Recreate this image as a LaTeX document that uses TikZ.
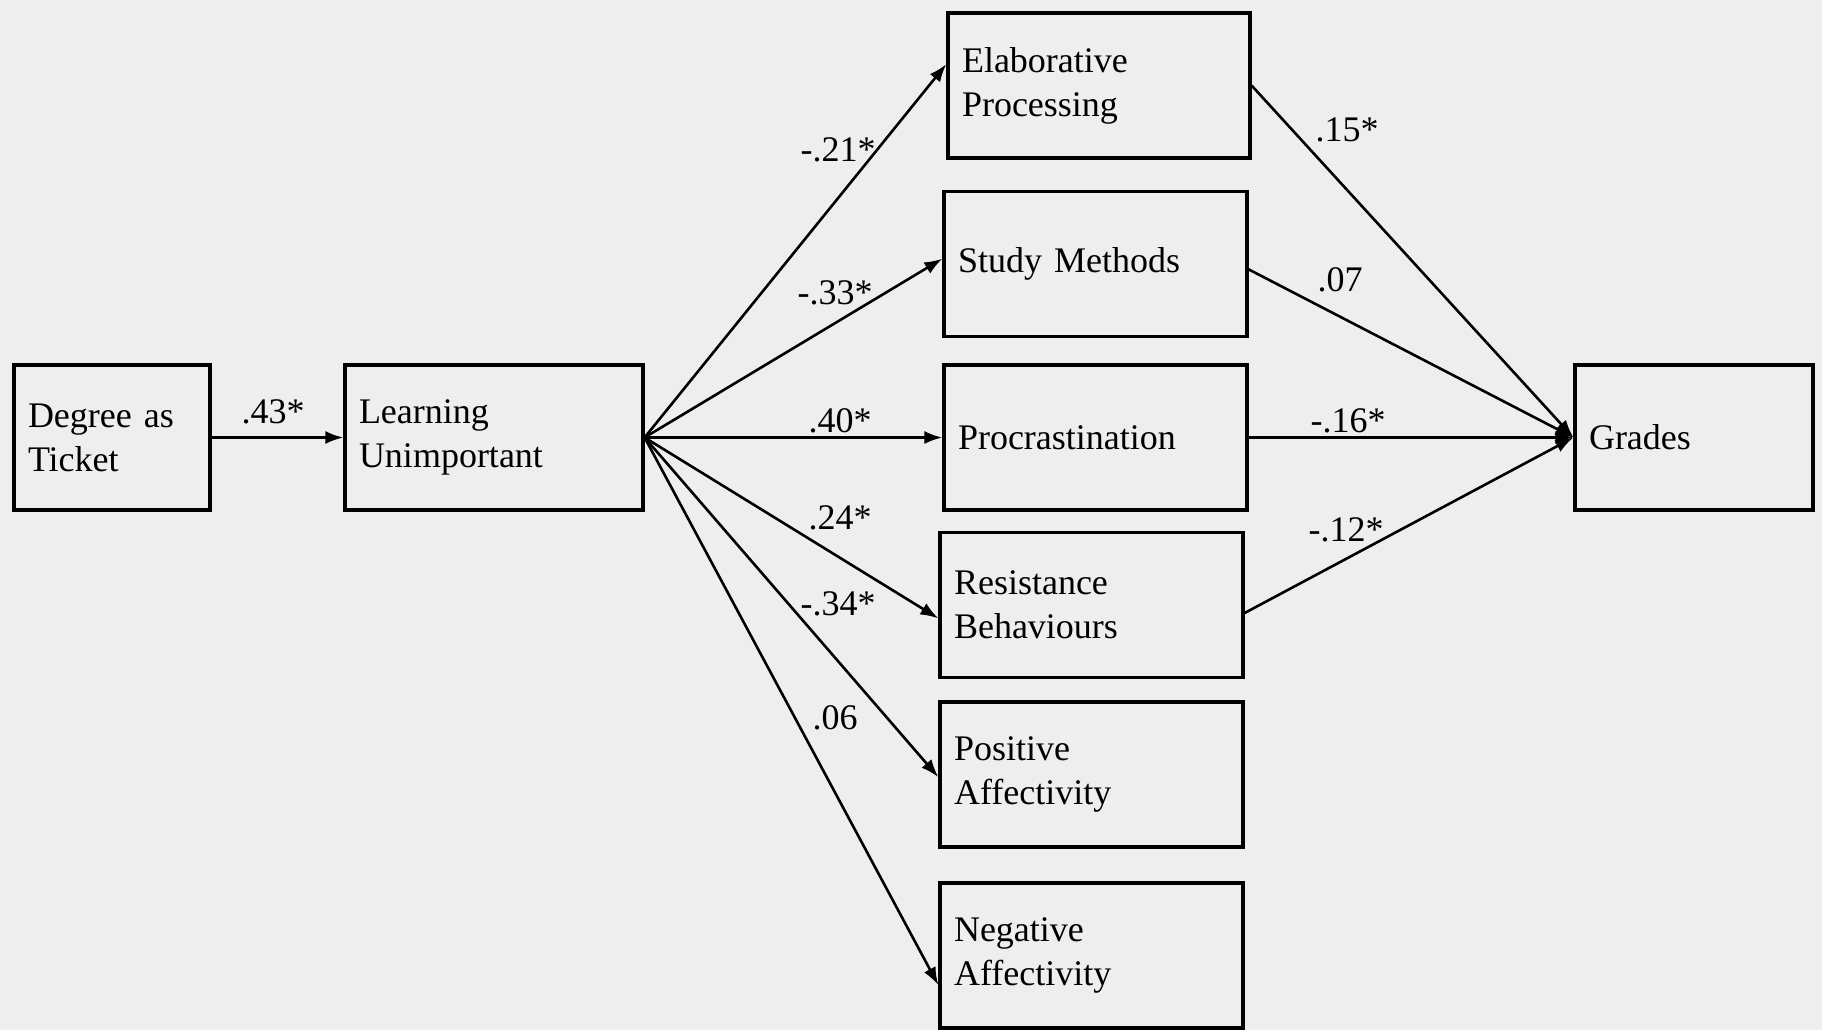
\documentclass[tikz,border=0pt]{standalone}
\usepackage{fontspec}
\setmainfont{Liberation Serif}
\usetikzlibrary{arrows.meta}
\definecolor{paper}{RGB}{238,238,238}

\begin{document}
\begin{tikzpicture}[x=0.5pt,y=-0.5pt,
  var/.style={draw,line width=1.6pt,rectangle,minimum height=72.5pt,inner xsep=7pt,align=left,font=\fontsize{18}{22}\selectfont},
  path/.style={line width=1.3pt,-{Latex[length=9pt,width=6.5pt]}},
  coef/.style={font=\fontsize{18}{22}\selectfont,inner sep=0pt}]
 \useasboundingbox (0,0) rectangle (1822,1030);
 \fill[paper] (0,0) rectangle (1822,1030);
 % variables
 \node[var,text width=84pt] (ticket) at (112,437.5) {Degree as\\Ticket};
 \node[var,text width=135pt] (unimp) at (494,437.5) {Learning\\Unimportant};
 \node[var,text width=137pt] (elab) at (1099,85.5) {Elaborative\\Processing};
 \node[var,text width=137.5pt] (study) at (1095.5,264) {Study Methods};
 \node[var,text width=137.5pt] (procr) at (1095.5,437.5) {Procrastination};
 \node[var,text width=137.5pt] (resist) at (1091.5,605) {Resistance\\Behaviours};
 \node[var,text width=137.5pt] (posaff) at (1091.5,774.5) {Positive\\Affectivity};
 \node[var,text width=137.5pt] (negaff) at (1091.5,955.5) {Negative\\Affectivity};
 \node[var,text width=105pt] (grades) at (1694,437.5) {Grades};
 % paths
 \draw[path] (ticket.east) -- (unimp.west);
 \draw[path] (unimp.east) -- (elab.172);
 \draw[path] (unimp.east) -- (study.178);
 \draw[path] (unimp.east) -- (procr.west);
 \draw[path] (unimp.east) -- (resist.185);
 \draw[path] (unimp.east) -- (posaff.181);
 \draw[path] (unimp.east) -- (negaff.191);
 \draw[path] (elab.east) -- (grades.west);
 \draw[path] (study.358) -- (grades.west);
 \draw[path] (procr.east) -- (grades.west);
 \draw[path] (resist.357) -- (grades.west);
 % coefficients
 \node[coef] (c1) at (273,412) {.43*};
 \node[coef] (c2) at (838,150) {-.21*};
 \node[coef] (c3) at (835,293) {-.33*};
 \node[coef] (c4) at (840,421) {.40*};
 \node[coef] (c5) at (840,518) {.24*};
 \node[coef] (c6) at (838,604) {-.34*};
 \node[coef] (c7) at (835,718) {.06};
 \node[coef] (c8) at (1347,130) {.15*};
 \node[coef] (c9) at (1340,280) {.07};
 \node[coef] (c10) at (1348,421) {-.16*};
 \node[coef] (c11) at (1346,530) {-.12*};
\end{tikzpicture}
\end{document}
